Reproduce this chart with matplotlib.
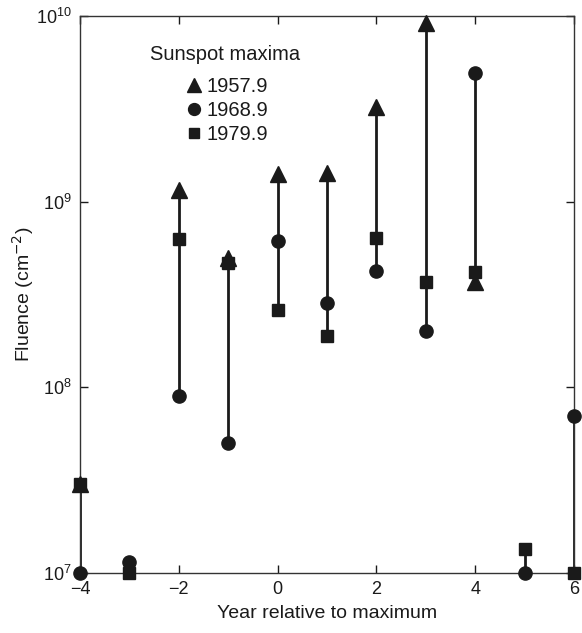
import numpy as np
import matplotlib.pyplot as plt
from matplotlib.lines import Line2D

plt.rcParams['font.family'] = ['Liberation Sans', 'DejaVu Sans']

# Year relative to solar maximum
years = [-4, -3, -2, -1, 0, 1, 2, 3, 4, 5, 6]

# Proton fluence (cm^-2) per year for each cycle; None = no point
fluence_1957 = [3.0e7, None, 1.15e9, 5.0e8, 1.4e9, 1.43e9, 3.25e9, 9.2e9, 3.7e8, None, None]
fluence_1968 = [1.0e7, 1.15e7, 9.0e7, 5.0e7, 6.1e8, 2.85e8, 4.25e8, 2.0e8, 4.9e9, 1.0e7, 7.0e7]
fluence_1979 = [3.0e7, 1.0e7, 6.3e8, 4.7e8, 2.6e8, 1.9e8, 6.4e8, 3.7e8, 4.2e8, 1.35e7, 1.0e7]

cycles = ["1957.9", "1968.9", "1979.9"]
markers = ["^", "o", "s"]
sizes = [11, 9.5, 8.5]

fig = plt.figure(figsize=(5.82, 6.33), dpi=100)
ax = fig.add_axes([0.1375, 0.0948, 0.849, 0.88])

series = [fluence_1957, fluence_1968, fluence_1979]

# vertical bar spanning the cycles at each year
for i, yr in enumerate(years):
    vals = [s[i] for s in series if s[i] is not None]
    ax.vlines(yr, min(vals), max(vals), color='#1a1a1a', lw=2, zorder=2)

for s, m, ms in zip(series, markers, sizes):
    xs = [yr for yr, v in zip(years, s) if v is not None]
    ys = [v for v in s if v is not None]
    ax.plot(xs, ys, ls='none', marker=m, ms=ms, color='#1a1a1a', clip_on=False, zorder=3)

ax.set_yscale('log')
ax.set_ylim(1e7, 1e10)
ax.set_xlim(-4, 6)
ax.set_xticks([-4, -2, 0, 2, 4, 6])
ax.set_yticks([1e7, 1e8, 1e9, 1e10])
ax.minorticks_off()
ax.tick_params(direction='in', length=6, width=1, top=True, right=True, labelsize=13, pad=6, colors='#1a1a1a')

ax.set_xlabel("Year relative to maximum", fontsize=14, color='#1a1a1a', labelpad=5)
ax.set_ylabel("Fluence (cm$^{-2}$)", fontsize=14, color='#1a1a1a')
ax.yaxis.set_label_coords(-0.089, 0.5)
for sp in ax.spines.values():
    sp.set_color('#333333')
    sp.set_linewidth(1)

# legend: heading as plain text, entries below it
ax.text(0.2935, 0.930, "Sunspot maxima", transform=ax.transAxes, ha='center', va='center',
        fontsize=14.5, color='#1a1a1a')
handles = [Line2D([], [], ls='none', marker=m, ms=ms * 0.9, color='#1a1a1a') for m, ms in zip(markers, sizes)]
leg = ax.legend(handles, cycles, loc='upper center', bbox_to_anchor=(0.298, 0.908),
                frameon=False, fontsize=14.5, handlelength=0.8, handletextpad=0.2,
                labelspacing=0.25, borderpad=0)
for t in leg.get_texts():
    t.set_color('#1a1a1a')

fig.savefig("out.png", dpi=100)
